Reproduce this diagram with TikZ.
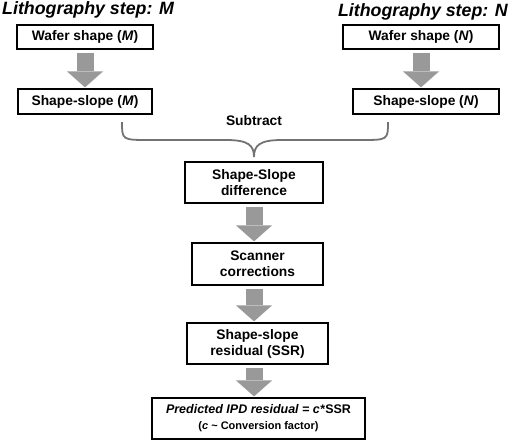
\documentclass[tikz,border=0pt]{standalone}
\usepackage{fontspec}
\setmainfont{Liberation Sans}
\usetikzlibrary{arrows.meta}

\begin{document}
\begin{tikzpicture}[x=1pt,y=1pt,yscale=-1,xscale=1,
	box/.style={draw, line width=1.2pt, inner sep=0pt, align=center, font=\fontsize{13.8}{16}\selectfont\bfseries},
	flow/.style={draw={rgb, 255:red, 153; green, 153; blue, 153}, line width=17pt, -{Triangle[width=36pt,length=16pt,line width=0pt]}, shorten <=3pt, shorten >=1pt},
	brace/.style={draw={rgb, 255:red, 115; green, 115; blue, 115}, line width=1.8pt},
	title/.style={inner sep=0pt, font=\fontsize{17.8}{20}\selectfont\bfseries\itshape}]
	\useasboundingbox (0,0) rectangle (510,440);
	% titles
	\node[title, anchor=base west] (titM) at (2,14) {Lithography step: M};
	\node[title, anchor=base east] (titN) at (508,16) {Lithography step: N};
	% left column
	\node[box, minimum width=136pt, minimum height=24pt] (wafM) at (85,37) {Wafer shape (\textit{M})};
	\node[box, minimum width=134pt, minimum height=25pt] (slopeM) at (85,101.5) {Shape-slope (\textit{M})};
	% right column
	\node[box, minimum width=156pt, minimum height=24pt] (wafN) at (421,37) {Wafer shape (\textit{N})};
	\node[box, minimum width=146pt, minimum height=25pt] (slopeN) at (426,101.5) {Shape-slope (\textit{N})};
	% middle column
	\node[font=\fontsize{13.8}{16}\selectfont\bfseries] (sub) at (254,121) {Subtract};
	\node[box, minimum width=138pt, minimum height=41pt] (diff) at (254,182.5) {Shape-Slope\\difference};
	\node[box, minimum width=131pt, minimum height=42pt] (scan) at (257.5,264) {Scanner\\corrections};
	\node[box, minimum width=141pt, minimum height=41pt] (ssr) at (257.5,343.5) {Shape-slope\\residual (SSR)};
	\node[box, minimum width=213pt, minimum height=41pt] (ipd) at (258.5,418.5) {{\fontsize{12.5}{16}\selectfont\textit{Predicted IPD residual = c*}SSR}\\{\fontsize{11}{14}\selectfont(\textit{c} \textasciitilde{} Conversion factor)}};
	% brace
	\coordinate (brL) at (122,122);
	\coordinate (brR) at (388,122);
	\coordinate (brT) at (254,157);
	\draw[brace] (brL) .. controls (122,140) and (122,140) .. (150,140) -- (226,140) .. controls (248,140) and (254,145) .. (brT);
	\draw[brace] (brR) .. controls (388,140) and (388,140) .. (360,140) -- (282,140) .. controls (260,140) and (254,145) .. (brT);
	% arrows
	\draw[flow] (wafM) -- (slopeM);
	\draw[flow] (wafN.south) -- (wafN.south |- slopeN.north);
	\draw[flow] (diff) -- (diff.south |- scan.north);
	\draw[flow] (scan.south -| diff.south) -- (diff.south |- ssr.north);
	\draw[flow] (ssr.south -| diff.south) -- (diff.south |- ipd.north);
\end{tikzpicture}
\end{document}
